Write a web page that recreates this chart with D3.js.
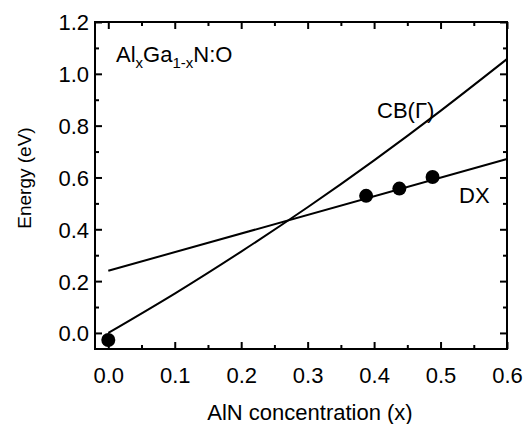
<!DOCTYPE html>
<html><head><meta charset="utf-8">
<script src="https://cdn.jsdelivr.net/npm/d3@7"></script>
<style>
body{margin:0;background:#fff;}
svg text{font-family:"Liberation Sans",Arial,sans-serif;fill:#000;}
</style></head>
<body><svg id="c" width="526" height="424"></svg>
<script>
// Data
const cbX = [0.0, 0.1, 0.2, 0.3, 0.4, 0.5, 0.6];
const cbY = [0.0, 0.152, 0.314, 0.485, 0.666, 0.857, 1.057];
const dxLineX = [0.0, 0.6];
const dxLineY = [0.24, 0.671];
const ptX = [0.0, 0.388, 0.438, 0.488];
const ptY = [-0.027, 0.529, 0.557, 0.602];
const xTicks = [0.0, 0.1, 0.2, 0.3, 0.4, 0.5, 0.6];
const yTicks = [0.0, 0.2, 0.4, 0.6, 0.8, 1.0, 1.2];
const xMinor = [0.05, 0.15, 0.25, 0.35, 0.45, 0.55];
const yMinor = [0.1, 0.3, 0.5, 0.7, 0.9, 1.1];

const W = 526, H = 424;
const m = {l:95, r:19, t:22, b:75};
const svg = d3.select("#c");
const x = d3.scaleLinear().domain([-0.02, 0.6]).range([m.l, W - m.r]);
const y = d3.scaleLinear().domain([-0.062, 1.2]).range([H - m.b, m.t]);
const fmt = d3.format(".1f");

const g = svg.append("g");
// ticks (inward), mirrored
function ticks(axisGen, tr, vals, len, labels) {
  const a = g.append("g").attr("transform", tr)
    .call(axisGen.tickValues(vals).tickSizeInner(len).tickSizeOuter(0).tickFormat(labels ? fmt : ""));
  a.select(".domain").remove();
  a.selectAll(".tick line").attr("stroke", "#000").attr("stroke-width", 2);
  return a;
}
const bx = ticks(d3.axisBottom(x), `translate(0,${H-m.b})`, xTicks, -7, true);
bx.selectAll("text").attr("font-size", 22).attr("y", 0).attr("dy", 34);
ticks(d3.axisBottom(x), `translate(0,${H-m.b})`, xMinor, -4, false);
ticks(d3.axisTop(x), `translate(0,${m.t})`, xTicks, -7, false);
ticks(d3.axisTop(x), `translate(0,${m.t})`, xMinor, -4, false);
const ly = ticks(d3.axisLeft(y), `translate(${m.l},0)`, yTicks, -7, true);
ly.selectAll("text").attr("font-size", 22).attr("x", -6).attr("dy", "0.36em");
ticks(d3.axisLeft(y), `translate(${m.l},0)`, yMinor, -4, false);
ticks(d3.axisRight(y), `translate(${W-m.r},0)`, yTicks, -7, false);
ticks(d3.axisRight(y), `translate(${W-m.r},0)`, yMinor, -4, false);

// frame
g.append("rect").attr("x", m.l).attr("y", m.t)
  .attr("width", W - m.l - m.r).attr("height", H - m.t - m.b)
  .attr("fill", "none").attr("stroke", "#000").attr("stroke-width", 2);

// lines
const line = d3.line().x(d => x(d[0])).y(d => y(d[1]));
g.append("path").datum(cbX.map((v,i)=>[v, cbY[i]]))
  .attr("d", line.curve(d3.curveNatural)).attr("fill","none").attr("stroke","#000").attr("stroke-width",2);
g.append("path").datum(dxLineX.map((v,i)=>[v, dxLineY[i]]))
  .attr("d", d3.line().x(d => x(d[0])).y(d => y(d[1]))).attr("fill","none").attr("stroke","#000").attr("stroke-width",2);

// points
g.selectAll("circle.p").data(ptX.map((v,i)=>[v, ptY[i]])).enter().append("circle")
  .attr("cx", d => x(d[0])).attr("cy", d => y(d[1])).attr("r", 7).attr("fill", "#000");

// labels
const t = svg.append("text").attr("x", 116).attr("y", 62).attr("font-size", 22);
t.append("tspan").text("Al");
t.append("tspan").text("x").attr("font-size", 15).attr("dy", 6);
t.append("tspan").text("Ga").attr("dy", -6);
t.append("tspan").text("1-x").attr("font-size", 15).attr("dy", 6);
t.append("tspan").text("N:O").attr("dy", -6);

svg.append("text").attr("x", 377).attr("y", 118).attr("font-size", 22).text("CB(Γ)");
svg.append("text").attr("x", 459).attr("y", 203).attr("font-size", 22).text("DX");

svg.append("text").attr("x", 310).attr("y", 420).attr("text-anchor", "middle")
  .attr("font-size", 22).text("AlN concentration (x)");
svg.append("text").attr("transform", "translate(31,178) rotate(-90)")
  .attr("text-anchor", "middle").attr("font-size", 19).text("Energy (eV)");
</script></body></html>
